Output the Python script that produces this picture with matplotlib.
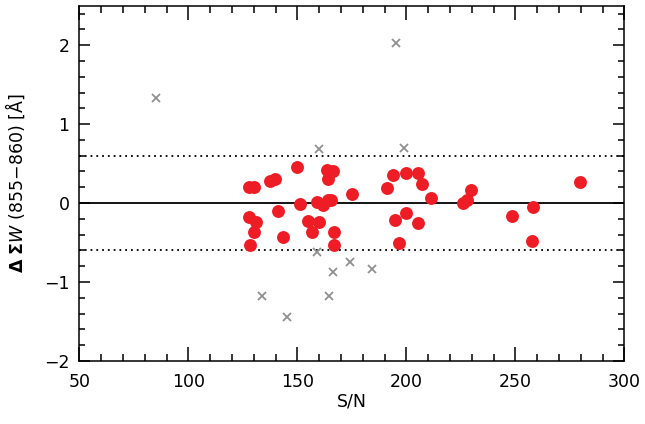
import matplotlib
matplotlib.use("Agg")
import matplotlib.pyplot as plt
from matplotlib.ticker import MultipleLocator

# good measurements (red dots)
sn_good = [127.8, 130.3, 137.5, 139.8, 150.0, 163.5, 166.2, 164.2, 175.2, 151.4,
           159.2, 161.9, 164.2, 165.6, 127.8, 131.2, 130.3, 128.2, 141.1, 143.6,
           155.0, 159.9, 156.6, 166.7, 166.7, 191.3, 193.9, 200.0, 205.4, 207.3,
           211.2, 199.7, 195.0, 205.2, 196.5, 226.1, 227.8, 229.7, 279.8, 248.6,
           258.1, 257.7]
dew_good = [0.20, 0.20, 0.285, 0.30, 0.46, 0.42, 0.41, 0.30, 0.11, -0.01,
            0.015, -0.025, 0.04, 0.035, -0.17, -0.245, -0.37, -0.53, -0.105, -0.43,
            -0.225, -0.24, -0.36, -0.37, -0.53, 0.185, 0.36, 0.375, 0.375, 0.24,
            0.06, -0.12, -0.21, -0.255, -0.50, -0.005, 0.035, 0.16, 0.27, -0.16,
            -0.05, -0.48]

# rejected measurements (grey crosses)
sn_bad = [85.0, 195.3, 159.9, 199.1, 158.9, 174.3, 166.2, 184.1, 133.9, 164.4, 145.4]
dew_bad = [1.33, 2.03, 0.69, 0.70, -0.62, -0.74, -0.87, -0.83, -1.18, -1.18, -1.44]

plt.rcParams['font.family'] = ['DejaVu Sans']
fig = plt.figure(figsize=(6.45, 4.24), dpi=100)
ax = fig.add_axes([0.123, 0.1486, 0.845, 0.838])

ax.axhline(0, color='black', linewidth=1.3, zorder=1)
ax.axhline(0.6, color='black', linewidth=1.3, linestyle=(0, (1, 2.2)), zorder=1)
ax.axhline(-0.6, color='black', linewidth=1.3, linestyle=(0, (1, 2.2)), zorder=1)

ax.plot(sn_bad, dew_bad, linestyle='none', marker='x', markersize=6,
        markeredgewidth=1.3, color='#909090', zorder=2)
ax.plot(sn_good, dew_good, linestyle='none', marker='o', markersize=9.3,
        markeredgewidth=0, color='#ee1d25', zorder=3)

ax.set_xlim(50, 300)
ax.set_ylim(-2, 2.5)
ax.xaxis.set_major_locator(MultipleLocator(50))
ax.xaxis.set_minor_locator(MultipleLocator(10))
ax.yaxis.set_major_locator(MultipleLocator(1))
ax.yaxis.set_minor_locator(MultipleLocator(0.2))

ax.tick_params(axis='both', which='both', direction='in', top=True, right=True,
               labelsize=12.5, width=1.1)
ax.tick_params(axis='x', which='major', length=10, pad=9)
ax.tick_params(axis='x', which='minor', length=5)
ax.tick_params(axis='y', which='major', length=8, pad=7)
ax.tick_params(axis='y', which='minor', length=4)
for s in ax.spines.values():
    s.set_linewidth(1.1)

ax.set_xlabel('S/N', fontsize=12.5, labelpad=1)
ax.set_ylabel(r'$\mathbf{\Delta}$ $\mathbf{\Sigma}\mathit{W}$ (855$-$860) [Å]',
              fontsize=12.5, labelpad=12)

fig.savefig('out.png', dpi=100)
